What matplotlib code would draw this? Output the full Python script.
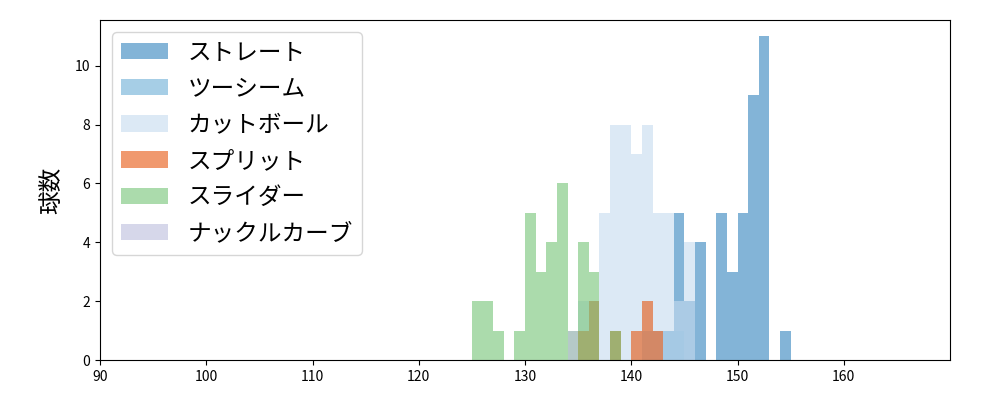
import matplotlib
matplotlib.use("Agg")
import matplotlib.pyplot as plt
import numpy as np

plt.rcParams['font.family'] = ['Noto Sans CJK JP', 'DejaVu Sans']

#球速 (km/h, 1 km/h bins: value = left edge) and counts per pitch type
straight_kmh = [143, 144, 145, 146, 148, 149, 150, 151, 152, 154]
straight_cnt = [1, 5, 2, 4, 5, 3, 5, 9, 11, 1]

twoseam_kmh = [141, 142, 143, 144]
twoseam_cnt = [1, 1, 1, 1]

cutter_kmh = [135, 136, 137, 138, 139, 140, 141, 142, 143, 144, 145]
cutter_cnt = [2, 2, 5, 8, 8, 7, 8, 5, 5, 2, 4]

split_kmh = [135, 136, 138, 140, 141, 142]
split_cnt = [1, 2, 1, 1, 2, 1]

slider_kmh = [125, 126, 127, 129, 130, 131, 132, 133, 134, 135, 136, 138]
slider_cnt = [2, 2, 1, 1, 5, 3, 4, 6, 1, 4, 3, 1]

knuckle_kmh = [134]
knuckle_cnt = [1]

pitch_names = ["ストレート", "ツーシーム", "カットボール", "スプリット", "スライダー", "ナックルカーブ"]
pitch_colors = ["#3182bd", "#6baed6", "#c6dbef", "#e6550d", "#74c476", "#bcbddc"]
x_ticks = [90, 100, 110, 120, 130, 140, 150, 160]

series = [
    (straight_kmh, straight_cnt),
    (twoseam_kmh, twoseam_cnt),
    (cutter_kmh, cutter_cnt),
    (split_kmh, split_cnt),
    (slider_kmh, slider_cnt),
    (knuckle_kmh, knuckle_cnt),
]

fig, ax = plt.subplots(figsize=(10, 4), dpi=100)
fig.subplots_adjust(left=0.1, right=0.95, bottom=0.1, top=0.95)

edges = np.arange(90, 171, 1)
for (kmh, cnt), name, col in zip(series, pitch_names, pitch_colors):
    centers = np.array(kmh) + 0.5
    ax.hist(centers, bins=edges, weights=cnt, color=col, alpha=0.6, label=name)

ax.set_xlim(90, 170)
ax.set_xticks(x_ticks)
ax.set_ylabel("球数", fontsize=17, labelpad=8)
ax.legend(loc="upper left", fontsize=17, labelspacing=0.56)

fig.savefig("out.png")
